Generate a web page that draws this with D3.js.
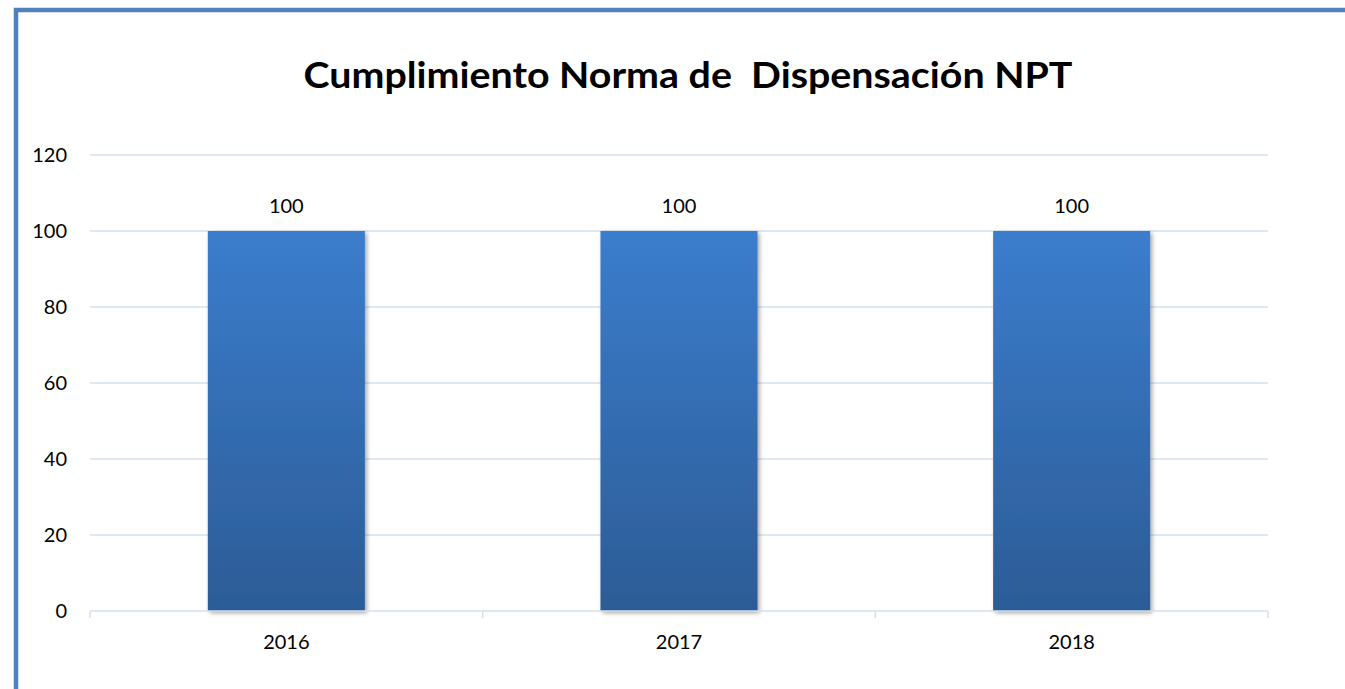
<!DOCTYPE html>
<html>
<head>
<meta charset="utf-8">
<script src="https://cdn.jsdelivr.net/npm/d3@7"></script>
<style>
  body { margin: 0; background: #fff; }
  svg { display: block; font-family: Lato, "Open Sans", sans-serif; }
</style>
</head>
<body>
<div id="chart"></div>
<script>
var title = 'Cumplimiento Norma de  Dispensación NPT';
var years = ['2016', '2017', '2018'];
var values = [100, 100, 100];
var yTicks = [0, 20, 40, 60, 80, 100, 120];

var W = 1345, H = 689;
var margins = {left: 90, right: 77, top: 155, bottom: 78};
var w = W - margins.left - margins.right,
    h = H - margins.top - margins.bottom;

var svg = d3.select('#chart')
  .append('svg')
  .attr('width', W)
  .attr('height', H);

// gradient for the bars
var defs = svg.append('defs');
var grad = defs.append('linearGradient')
  .attr('id', 'barGrad')
  .attr('x1', 0).attr('y1', 0).attr('x2', 0).attr('y2', 1);
grad.append('stop').attr('offset', '0%').attr('stop-color', '#3b7dcd');
grad.append('stop').attr('offset', '100%').attr('stop-color', '#2c5c96');

var shadow = defs.append('filter')
  .attr('id', 'shadow')
  .attr('x', '-10%').attr('y', '-10%').attr('width', '130%').attr('height', '130%');
shadow.append('feDropShadow')
  .attr('dx', 2).attr('dy', 2).attr('stdDeviation', 2)
  .attr('flood-color', '#000').attr('flood-opacity', 0.35);

// frame
svg.append('path')
  .attr('d', 'M16,' + (H + 10) + ' L16,10 L' + (W + 10) + ',10')
  .attr('fill', 'none')
  .attr('stroke', '#4f81bd')
  .attr('stroke-width', 4.5);

svg.append('text')
  .attr('x', 688)
  .attr('y', 88)
  .attr('text-anchor', 'middle')
  .attr('textLength', 769)
  .attr('lengthAdjust', 'spacingAndGlyphs')
  .style('font-size', '37px')
  .style('font-weight', 'bold')
  .style('white-space', 'pre')
  .attr('fill', '#000')
  .text(title);

var g = svg.append('g')
  .attr('transform', 'translate(' + margins.left + ',' + margins.top + ')');

var xScale = d3.scaleBand()
  .domain(years)
  .range([0, w])
  .paddingInner(0.6)
  .paddingOuter(0.3);

var yScale = d3.scaleLinear()
  .domain([0, 120])
  .range([h, 0]);

// gridlines
g.selectAll('.grid')
  .data(yTicks.slice(1))
  .enter().append('line')
  .attr('class', 'grid')
  .attr('x1', 0).attr('x2', w)
  .attr('y1', function(d) { return yScale(d); })
  .attr('y2', function(d) { return yScale(d); })
  .attr('stroke', '#d5e0ee')
  .attr('stroke-width', 1.5);

// y labels
g.selectAll('.ylab')
  .data(yTicks)
  .enter().append('text')
  .attr('class', 'ylab')
  .attr('x', -23)
  .attr('y', function(d) { return yScale(d); })
  .attr('dy', '0.36em')
  .attr('text-anchor', 'end')
  .style('font-size', '20px')
  .attr('fill', '#000')
  .text(function(d) { return d; });

// bars
g.selectAll('.bar')
  .data(values)
  .enter().append('rect')
  .attr('class', 'bar')
  .attr('x', function(d, i) { return xScale(years[i]); })
  .attr('y', function(d) { return yScale(d); })
  .attr('width', xScale.bandwidth())
  .attr('height', function(d) { return h - yScale(d); })
  .attr('fill', 'url(#barGrad)')
  .attr('filter', 'url(#shadow)');

// value labels
g.selectAll('.vlab')
  .data(values)
  .enter().append('text')
  .attr('class', 'vlab')
  .attr('x', function(d, i) { return xScale(years[i]) + xScale.bandwidth() / 2; })
  .attr('y', function(d) { return yScale(d) - 18; })
  .attr('text-anchor', 'middle')
  .style('font-size', '20px')
  .attr('fill', '#000')
  .text(function(d) { return d; });

// x axis line and ticks
g.append('line')
  .attr('x1', 0).attr('x2', w)
  .attr('y1', h).attr('y2', h)
  .attr('stroke', '#d5e0ee')
  .attr('stroke-width', 1.5);

var step = w / years.length;
g.selectAll('.xtick')
  .data(d3.range(years.length + 1))
  .enter().append('line')
  .attr('class', 'xtick')
  .attr('x1', function(d) { return d * step; })
  .attr('x2', function(d) { return d * step; })
  .attr('y1', h).attr('y2', h + 7)
  .attr('stroke', '#d5e0ee')
  .attr('stroke-width', 1.5);

g.selectAll('.xlab')
  .data(years)
  .enter().append('text')
  .attr('class', 'xlab')
  .attr('x', function(d) { return xScale(d) + xScale.bandwidth() / 2; })
  .attr('y', h + 38)
  .attr('text-anchor', 'middle')
  .style('font-size', '20px')
  .attr('fill', '#000')
  .text(function(d) { return d; });
</script>
</body>
</html>
